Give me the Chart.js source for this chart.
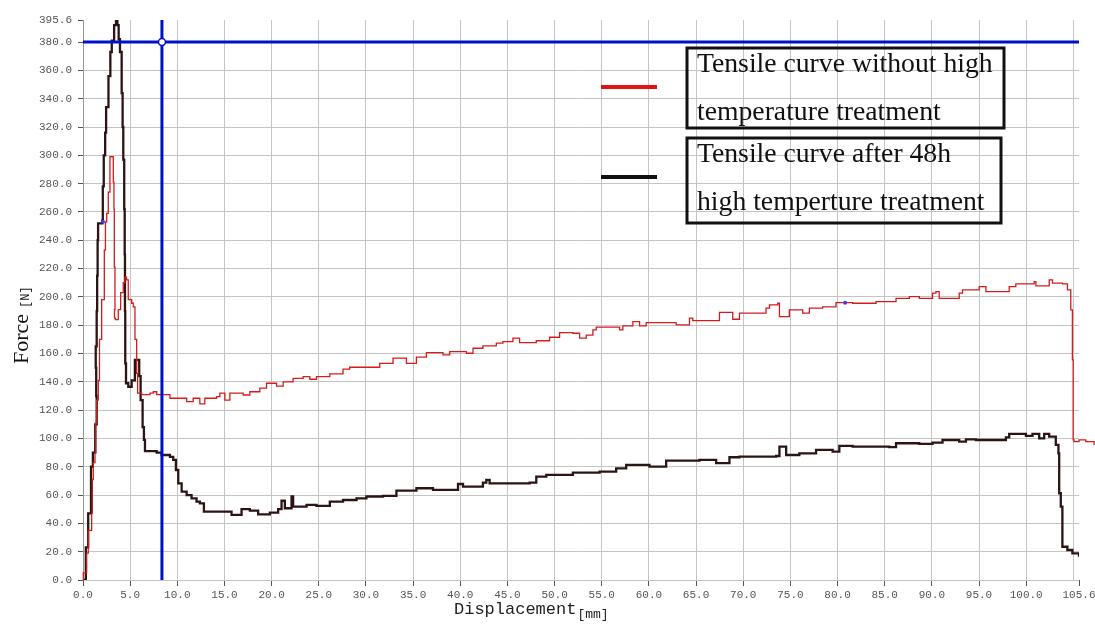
<!DOCTYPE html>
<html>
<head>
<meta charset="utf-8">
<script src="https://cdn.jsdelivr.net/npm/chart.js@4.4.1/dist/chart.umd.min.js"></script>
<style>
  body { margin: 0; background: #fff; }
  #wrap { width: 1095px; height: 624px; }
</style>
</head>
<body>
<div id="wrap"><canvas id="tensile" width="1095" height="624"></canvas></div>
<script>
// displacement [mm] / force [N] for the untreated sample
const redDisp = [0, 0.03, 0.39, 0.56, 0.85, 0.92, 0.99, 1.09, 1.27, 1.35, 1.45, 1.62, 1.75, 1.98, 2.26, 2.38, 2.51, 2.68, 2.86, 3.04,
  3.21, 3.28, 3.32, 3.39, 3.34, 3.44, 3.57, 3.74, 3.99, 4.27, 4.45, 4.62, 4.8, 5.16, 5.33, 5.51, 5.69, 5.79, 6.22, 7.1,
  7.45, 7.81, 9.04, 9.22, 10.28, 10.99, 11.68, 12.39, 12.92, 14.16, 14.51, 15.04, 15.57, 16.98, 17.69, 18.75, 19.46, 20.52, 21.22, 22.28,
  23.34, 24.05, 24.76, 26.17, 27.57, 28.28, 30.05, 31.46, 32.87, 34.29, 35.35, 36.41, 38.17, 38.88, 40.65, 41.35, 42.4, 43.82, 44.52, 45.58,
  46.29, 48.06, 49.47, 50.18, 50.53, 51.94, 52.65, 53.36, 54.06, 54.42, 56.89, 57.24, 58.3, 59.01, 59.71, 60.77, 62.89, 64.3, 64.65, 66.77,
  67.48, 68.89, 69.6, 72.07, 72.42, 72.78, 73.66, 73.84, 74.89, 76.31, 77.01, 78.42, 79.84, 81.6, 84.08, 86.2, 87.61, 88.67, 90.07, 90.43,
  90.78, 92.9, 93.25, 94.31, 95.02, 95.73, 98.2, 98.9, 100.67, 100.85, 101.03, 102.44, 102.79, 103.85, 104.37, 104.73, 104.9, 104.98, 105.08, 105.6,
  106.32, 107.2];
const redForce = [0, 5, 19, 35, 35, 47, 71, 83, 90, 111, 127, 141, 170, 198, 233, 253, 259, 274, 299, 299,
  281, 262, 221, 191, 185, 184, 184, 191, 203, 210, 214, 212, 198, 195.5, 193, 170, 146, 132, 131, 132,
  133, 131, 131, 128.4, 128.4, 126, 128.4, 124.4, 128.4, 129.5, 132, 127, 132, 130.7, 133, 135.5, 139, 137, 140, 142.5,
  143.7, 141.8, 143.7, 145.6, 149, 150.3, 150.3, 153, 156.7, 153, 157.4, 160.6, 159, 161.3, 160.2, 163.7, 165.4, 167.3, 168.4, 170.8,
  167.7, 169, 171.5, 171.5, 174.8, 174.3, 170.8, 173, 176.7, 178.6, 176.7, 179.5, 182.5, 179.5, 181.8, 181.8, 180.2, 185, 183.3, 183.3,
  189, 184.2, 188.5, 188.5, 192, 194.3, 195.5, 186, 190.8, 188.5, 192, 193, 196, 195.5, 196.7, 199, 200.2, 199, 202.6, 203.7,
  199, 202.6, 205, 205, 207.3, 203.7, 207.3, 209.2, 209.2, 210.8, 207.8, 212, 209.7, 209.2, 205, 190.8, 155.5, 99, 97.7, 99,
  97.7, 95.4];

// displacement [mm] / force [N] after 48h at high temperature
const blackDisp = [0, 0.3, 0.55, 0.85, 1.05, 1.3, 1.45, 1.4, 1.35, 1.45, 1.5, 1.55, 1.6, 2.05, 2.1, 2.2, 2.35, 2.45, 2.7, 2.9,
  3.05, 3.3, 3.5, 3.65, 3.78, 3.92, 4.1, 4.2, 4.27, 4.37, 4.42, 4.45, 4.48, 4.56, 4.8, 5.16, 5.5, 5.75, 5.96, 6.11,
  6.32, 6.46, 6.57, 7.81, 8.34, 9.22, 9.57, 9.85, 10.1, 10.46, 10.99, 11.51, 12.04, 12.39, 12.82, 14.86, 15.75, 16.81, 17.69, 18.57,
  19.81, 20.69, 21.05, 21.4, 22.11, 22.28, 23.7, 24.76, 26.17, 27.57, 29, 30.05, 31.81, 33.23, 35.35, 37.11, 39.23, 39.76, 40.29, 42.4,
  42.76, 43.11, 47.35, 48.06, 49.12, 51.24, 51.94, 54.77, 56.53, 57.59, 60.06, 61.83, 65.36, 67.13, 68.54, 69.6, 73.49, 73.84, 74.55, 75.95,
  77.72, 79.48, 80.19, 81.6, 85.49, 86.2, 88.66, 90.07, 91.13, 92.9, 93.61, 94.67, 97.85, 98.2, 99.97, 100.67, 101.38, 101.91, 102.44, 103.14,
  103.42, 103.5, 103.67, 103.84, 104.37, 104.9, 105.6];
const blackForce = [0, 23, 47, 80, 90, 110, 130, 150, 165, 190, 215, 240, 252, 254, 278, 300, 316, 334, 356, 373,
  381, 392, 395.6, 392, 382, 373, 344, 320, 297, 262, 230, 190, 153, 139, 136.5, 141, 155.5, 155.5, 144, 127,
  108, 99, 91, 90, 88.3, 87, 84.8, 77.7, 68.3, 62.4, 60, 57.7, 55.3, 54.2, 48.3, 48.3, 46, 50, 49, 46.4,
  47.6, 50, 56, 50.7, 59, 51.8, 53, 52.3, 55.3, 56.5, 57.7, 59, 59.4, 63.1, 64.8, 63.6, 63.6, 67.8, 66, 68.8,
  70.7, 68.3, 68.8, 73, 74.2, 74.2, 75.8, 76.5, 78.9, 81.3, 80.1, 84.3, 84.8, 82.5, 86.7, 87.1, 87.6, 94.2, 88.3, 89.5,
  91.9, 90.7, 94.7, 94.2, 93.8, 96.6, 96.1, 97, 98.9, 97.7, 99.4, 98.9, 100.8, 103.2, 101.8, 103.2, 100.1, 103.2, 101.3, 95.4,
  89.5, 61.3, 51.8, 23.5, 21.2, 18.8, 16.5];

// small blue sample marks on the curves
const markDisp = [2.12, 80.8];
const markForce = [253, 195.8];

// cursor crosshair
const cursorDisp = 8.37;
const cursorForce = 380;

const xTicks = [0, 5, 10, 15, 20, 25, 30, 35, 40, 45, 50, 55, 60, 65, 70, 75, 80, 85, 90, 95, 100, 105, 105.6];
const yTicks = [0, 20, 40, 60, 80, 100, 120, 140, 160, 180, 200, 220, 240, 260, 280, 300, 320, 340, 360, 380, 395.6];
const xMax = 105.6;
const yMax = 395.6;

const legendText = [
  ['Tensile curve without high', 'temperature treatment'],
  ['Tensile curve after 48h', 'high temperture treatment']
];

const toPoints = (xs, ys) => xs.map((x, i) => ({ x: x, y: ys[i] }));

// axis titles and the boxed legend
const overlay = {
  id: 'overlay',
  afterDraw(chart) {
    const ctx = chart.ctx;
    ctx.save();

    // Force [N]
    ctx.translate(28, 364);
    ctx.rotate(-Math.PI / 2);
    ctx.fillStyle = '#111';
    ctx.textBaseline = 'alphabetic';
    ctx.textAlign = 'left';
    ctx.font = '22px "Liberation Serif"';
    ctx.fillText('Force', 0, 0);
    let w = ctx.measureText('Force').width;
    ctx.font = '12px "Liberation Mono"';
    ctx.fillText('[N]', w + 6, 1);
    ctx.setTransform(1, 0, 0, 1, 0, 0);

    // Displacement[mm]
    ctx.fillStyle = '#222';
    ctx.font = '17px "Liberation Mono"';
    ctx.fillText('Displacement', 454, 614);
    w = ctx.measureText('Displacement').width;
    ctx.font = '13px "Liberation Mono"';
    ctx.fillText('[mm]', 454 + w + 1, 618);

    // legend swatches
    ctx.lineWidth = 4;
    ctx.strokeStyle = '#e01414';
    ctx.beginPath(); ctx.moveTo(601, 87); ctx.lineTo(657, 87); ctx.stroke();
    ctx.strokeStyle = '#111';
    ctx.beginPath(); ctx.moveTo(601, 177); ctx.lineTo(657, 177); ctx.stroke();

    // legend boxes
    ctx.lineWidth = 3;
    ctx.strokeStyle = '#111';
    ctx.strokeRect(687, 48, 317, 80);
    ctx.strokeRect(687, 138, 314, 85);

    ctx.fillStyle = '#111';
    ctx.font = '27.7px "Liberation Serif"';
    ctx.fillText(legendText[0][0], 697, 72);
    ctx.fillText(legendText[0][1], 697, 120);
    ctx.fillText(legendText[1][0], 697, 162);
    ctx.fillText(legendText[1][1], 697, 210);

    ctx.restore();
  }
};

new Chart(document.getElementById('tensile'), {
  type: 'line',
  data: {
    datasets: [
      {
        label: 'cursor point',
        data: [{ x: cursorDisp, y: cursorForce }],
        showLine: false,
        pointRadius: 3.5,
        pointBorderWidth: 1.5,
        pointBackgroundColor: '#fff',
        pointBorderColor: '#0010c8',
        order: -2
      },
      {
        label: 'marks',
        data: toPoints(markDisp, markForce),
        showLine: false,
        pointRadius: 2,
        pointBorderWidth: 0,
        pointBackgroundColor: '#3a3aff',
        order: -1
      },
      {
        label: 'cursor x',
        data: [{ x: cursorDisp, y: 0 }, { x: cursorDisp, y: yMax }],
        borderColor: '#0010c8',
        borderWidth: 3,
        pointRadius: 0,
        order: 0
      },
      {
        label: 'cursor y',
        data: [{ x: 0, y: cursorForce }, { x: xMax, y: cursorForce }],
        borderColor: '#0010c8',
        borderWidth: 3,
        pointRadius: 0,
        order: 0
      },
      {
        label: 'Tensile curve without high temperature treatment',
        data: toPoints(redDisp, redForce),
        borderColor: '#d41c1c',
        borderWidth: 1.3,
        pointRadius: 0,
        stepped: 'before',
        clip: false,
        order: 1
      },
      {
        label: 'Tensile curve after 48h high temperture treatment',
        data: toPoints(blackDisp, blackForce),
        borderColor: '#2d1414',
        borderWidth: 2.3,
        pointRadius: 0,
        stepped: 'before',
        order: 2
      }
    ]
  },
  options: {
    responsive: false,
    animation: false,
    layout: { padding: { top: 20, right: 16, left: 0, bottom: 0 } },
    plugins: {
      legend: { display: false },
      tooltip: { enabled: false }
    },
    scales: {
      x: {
        type: 'linear',
        min: 0,
        max: xMax,
        afterBuildTicks: (scale) => { scale.ticks = xTicks.map(v => ({ value: v })); },
        afterFit: (scale) => {
          scale.height = 44;
          // let the last label overhang instead of shrinking the plot
          scale.paddingRight = 0;
        },
        border: { display: false },
        grid: {
          color: (c) => (c.tick && c.tick.value === xMax) ? 'rgba(0,0,0,0)' : '#c4c4c4',
          tickColor: (c) => (c.tick && c.tick.value === 105) ? 'rgba(0,0,0,0)' : '#555',
          tickLength: 6
        },
        ticks: {
          autoSkip: false,
          maxRotation: 0,
          padding: 2,
          color: '#555',
          font: { family: 'Liberation Mono', size: 11 },
          callback: (v) => v === 105 ? '' : Number(v).toFixed(1)
        }
      },
      y: {
        type: 'linear',
        min: 0,
        max: yMax,
        afterBuildTicks: (scale) => { scale.ticks = yTicks.map(v => ({ value: v })); },
        afterFit: (scale) => { scale.width = 83; },
        border: { display: true, color: '#999' },
        grid: {
          color: (c) => (c.tick && c.tick.value === yMax) ? 'rgba(0,0,0,0)' : '#c4c4c4',
          tickColor: '#555',
          tickLength: 5
        },
        ticks: {
          padding: 6,
          color: '#555',
          font: { family: 'Liberation Mono', size: 11 },
          callback: (v) => Number(v).toFixed(1)
        }
      }
    }
  },
  plugins: [overlay]
});
</script>
</body>
</html>
